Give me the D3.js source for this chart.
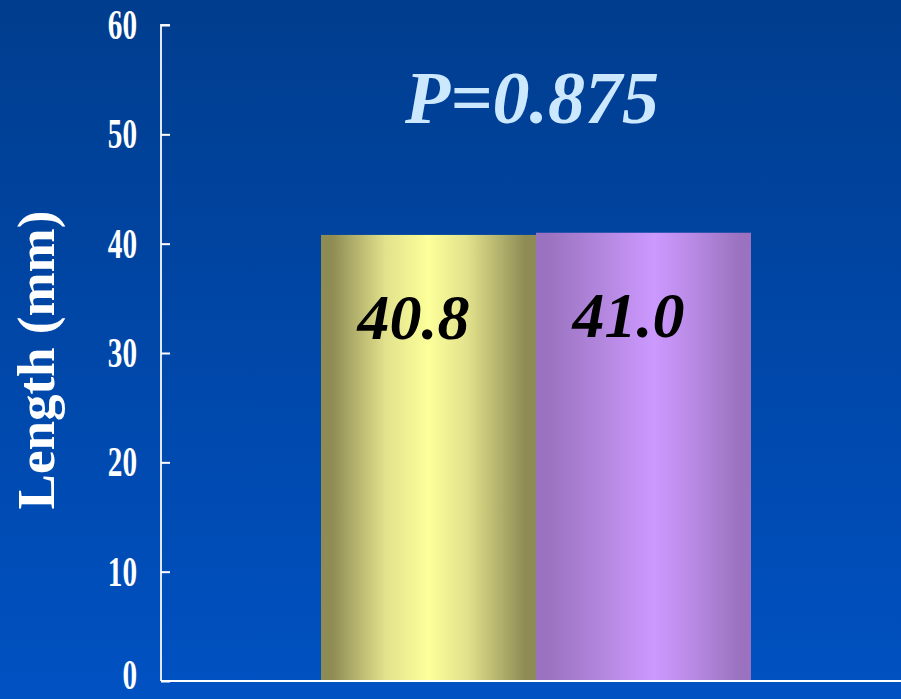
<!DOCTYPE html>
<html>
<head>
<meta charset="utf-8">
<script src="https://cdn.jsdelivr.net/npm/d3@7"></script>
<style>
  html, body { margin: 0; padding: 0; background: #0048a8; }
  svg { display: block; }
</style>
</head>
<body>
<script>
// Chart data
const groups = ["A", "B"];
const lengths = [40.8, 41.0];
const valueLabels = ["40.8", "41.0"];
const yTicks = [0, 10, 20, 30, 40, 50, 60];
const pLabel = "P=0.875";
const yTitle = "Length (mm)";

const W = 901, H = 699;
const margin = { left: 161, top: 25, bottom: 18 };
const y0 = H - margin.bottom; // 681

const svg = d3.select("body").append("svg")
  .attr("width", W).attr("height", H);

const defs = svg.append("defs");

// background gradient: deep blue at top to brighter blue at bottom
const bg = defs.append("linearGradient").attr("id", "bg")
  .attr("x1", 0).attr("y1", 0).attr("x2", 0).attr("y2", 1);
bg.append("stop").attr("offset", "0%").attr("stop-color", "#003d8e");
bg.append("stop").attr("offset", "100%").attr("stop-color", "#0051c2");

// cylindrical shading for each bar
const barShades = [
  { id: "gA", edge: "#8e8b54", half: "#e2e28c", mid: "#fcff9a", peak: 0.5 },
  { id: "gB", edge: "#9a72bf", half: "#b88ae4", mid: "#cc99ff", peak: 0.55 }
];
barShades.forEach(s => {
  const g = defs.append("linearGradient").attr("id", s.id)
    .attr("x1", 0).attr("y1", 0).attr("x2", 1).attr("y2", 0);
  g.append("stop").attr("offset", "0%").attr("stop-color", s.edge);
  g.append("stop").attr("offset", "5%").attr("stop-color", s.edge);
  g.append("stop").attr("offset", (s.peak * 100 - 20) + "%").attr("stop-color", s.half);
  g.append("stop").attr("offset", (s.peak * 100) + "%").attr("stop-color", s.mid);
  g.append("stop").attr("offset", (s.peak * 100 + 18) + "%").attr("stop-color", s.half);
  g.append("stop").attr("offset", "95%").attr("stop-color", s.edge);
  g.append("stop").attr("offset", "100%").attr("stop-color", s.edge);
});

svg.append("rect").attr("width", W).attr("height", H).attr("fill", "url(#bg)");

const y = d3.scaleLinear().domain([0, 60]).range([y0, margin.top]);
const x = d3.scaleBand().domain(groups).range([321, 751]).padding(0);

// bars
svg.selectAll("rect.bar").data(groups).join("rect")
  .attr("class", "bar")
  .attr("x", d => x(d))
  .attr("width", x.bandwidth())
  .attr("y", (d, i) => y(lengths[i]))
  .attr("height", (d, i) => y0 - y(lengths[i]))
  .attr("fill", (d, i) => `url(#${barShades[i].id})`);

// value labels inside the bars
svg.selectAll("text.val").data(groups).join("text")
  .attr("class", "val")
  .attr("x", d => x(d) + x.bandwidth() / 2 - 15)
  .attr("y", (d, i) => y(lengths[i]) + 104)
  .attr("text-anchor", "middle")
  .attr("font-family", "'Liberation Serif', 'Times New Roman', serif")
  .attr("font-weight", "bold")
  .attr("font-style", "italic")
  .attr("font-size", 64)
  .attr("fill", "#000")
  .text((d, i) => valueLabels[i]);

// y axis
const yAxis = d3.axisRight(y).tickValues(yTicks).tickSize(9).tickFormat("");
const ga = svg.append("g").attr("transform", `translate(${margin.left},0)`).call(yAxis);
ga.select(".domain").attr("stroke", "#dfe8ff").attr("stroke-width", 2)
  .attr("d", `M9,${margin.top}H0V${y0}`);
ga.selectAll(".tick line").attr("stroke", "#ffffff").attr("stroke-width", 2);

// tick labels, narrow bold serif (kept inside the bottom edge)
svg.selectAll("text.tick").data(yTicks).join("text")
  .attr("class", "tick")
  .attr("transform", d => `translate(137,${Math.min(y(d) + 14, H - 10)}) scale(0.68,1)`)
  .attr("text-anchor", "end")
  .attr("font-family", "'Liberation Serif', 'Times New Roman', serif")
  .attr("font-weight", "bold")
  .attr("font-size", 43)
  .attr("fill", "#ffffff")
  .text(d => d);

// x axis baseline
svg.append("line")
  .attr("x1", margin.left).attr("x2", W)
  .attr("y1", y0).attr("y2", y0)
  .attr("stroke", "#ffffff").attr("stroke-width", 2);

// y axis title
svg.append("text")
  .attr("transform", `translate(54,${(210 + 510) / 2}) rotate(-90)`)
  .attr("text-anchor", "middle")
  .attr("font-family", "'Liberation Serif', 'Times New Roman', serif")
  .attr("font-weight", "bold")
  .attr("font-size", 53)
  .attr("fill", "#ffffff")
  .text(yTitle);

// significance annotation
svg.append("text")
  .attr("x", 532).attr("y", 123)
  .attr("text-anchor", "middle")
  .attr("font-family", "'Liberation Serif', 'Times New Roman', serif")
  .attr("font-weight", "bold")
  .attr("font-style", "italic")
  .attr("font-size", 74)
  .attr("fill", "#cce8ff")
  .text(pLabel);
</script>
</body>
</html>
